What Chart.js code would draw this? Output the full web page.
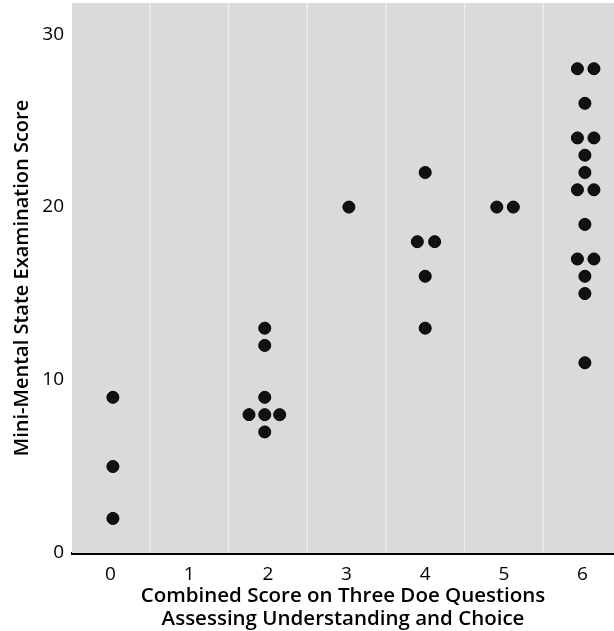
<!DOCTYPE html>
<html>
<head>
<meta charset="utf-8">
<script src="https://cdn.jsdelivr.net/npm/chart.js@4/dist/chart.umd.min.js"></script>
<style>
  html, body { margin: 0; padding: 0; background: #fff; }
  #wrap { width: 614px; height: 631px; position: relative; }
</style>
</head>
<body>
<div id="wrap"><canvas id="c"></canvas></div>
<script>
// Combined Doe score (x, with the small horizontal spread used in the figure)
const doeScore = [
  0.03, 0.03, 0.03,
  1.96, 1.96, 1.96, 1.76, 1.96, 2.15, 1.96,
  3.03,
  4.00, 3.90, 4.12, 4.00, 4.00,
  4.91, 5.12,
  5.935, 6.145, 6.03, 5.935, 6.145, 6.03, 6.03, 5.935, 6.145, 6.03, 5.935, 6.145, 6.03, 6.03, 6.03
];
// Mini-Mental State Examination score (y)
const mmseScore = [
  2, 5, 9,
  13, 12, 9, 8, 8, 8, 7,
  20,
  22, 18, 18, 16, 13,
  20, 20,
  28, 28, 26, 24, 24, 23, 22, 21, 21, 19, 17, 17, 16, 15, 11
];
const xTicks = [0, 1, 2, 3, 4, 5, 6];
const yTicks = [0, 10, 20, 30];
const separators = [0.5, 1.5, 2.5, 3.5, 4.5, 5.5];

const points = doeScore.map((x, i) => ({ x: x, y: mmseScore[i] }));

const bgPlugin = {
  id: 'bg',
  beforeDatasetsDraw(chart) {
    const { ctx, chartArea: a, scales } = chart;
    ctx.save();
    ctx.fillStyle = '#dadada';
    ctx.fillRect(a.left, a.top, a.right - a.left, a.bottom - a.top);
    ctx.strokeStyle = 'rgba(255,255,255,0.5)';
    ctx.lineWidth = 1.5;
    separators.forEach(v => {
      const px = scales.x.getPixelForValue(v);
      ctx.beginPath();
      ctx.moveTo(px, a.top);
      ctx.lineTo(px, a.bottom);
      ctx.stroke();
    });
    ctx.restore();
  }
};

const FONT = "'Open Sans', 'Noto Sans', sans-serif";

new Chart(document.getElementById('c'), {
  type: 'scatter',
  data: {
    datasets: [{
      data: points,
      pointRadius: 6,
      pointHoverRadius: 6,
      backgroundColor: '#111',
      borderColor: '#000',
      borderWidth: 1,
      clip: false
    }]
  },
  options: {
    responsive: true,
    maintainAspectRatio: false,
    animation: false,
    devicePixelRatio: 1,
    layout: { autoPadding: false, padding: { top: 3, right: 0, left: 0, bottom: 0 } },
    plugins: { legend: { display: false }, tooltip: { enabled: false } },
    scales: {
      x: {
        type: 'linear',
        min: -0.49,
        max: 6.4,
        afterBuildTicks(axis) { axis.ticks = xTicks.map(v => ({ value: v })); },
        afterFit(axis) { axis.height = 78; axis.paddingRight = 0; axis.paddingLeft = 0; },
        grid: { display: false, drawTicks: false },
        border: { display: true, color: '#000', width: 3 },
        ticks: {
          color: '#000',
          padding: 10,
          autoSkip: false,
          maxRotation: 0,
          font: { family: FONT, size: 19 },
          callback: v => String(v)
        },
        title: {
          display: true,
          text: ['Combined Score on Three Doe Questions', 'Assessing Understanding and Choice'],
          color: '#000',
          font: { family: FONT, size: 20.5, weight: '600', lineHeight: 1.13 },
          padding: { top: 0, bottom: 0 }
        }
      },
      y: {
        type: 'linear',
        min: 0,
        max: 31.8,
        afterBuildTicks(axis) { axis.ticks = yTicks.map(v => ({ value: v })); },
        afterFit(axis) { axis.width = 72; axis.paddingTop = 0; axis.paddingBottom = 0; },
        grid: { display: false, drawTicks: false },
        border: { display: false },
        ticks: {
          color: '#000',
          padding: 8,
          font: { family: FONT, size: 19 },
          callback: v => String(v)
        },
        title: {
          display: true,
          text: 'Mini-Mental State Examination Score',
          color: '#000',
          font: { family: FONT, size: 20, weight: '600' },
          padding: { top: 10, bottom: 0 }
        }
      }
    }
  },
  plugins: [bgPlugin]
});
</script>
</body>
</html>
